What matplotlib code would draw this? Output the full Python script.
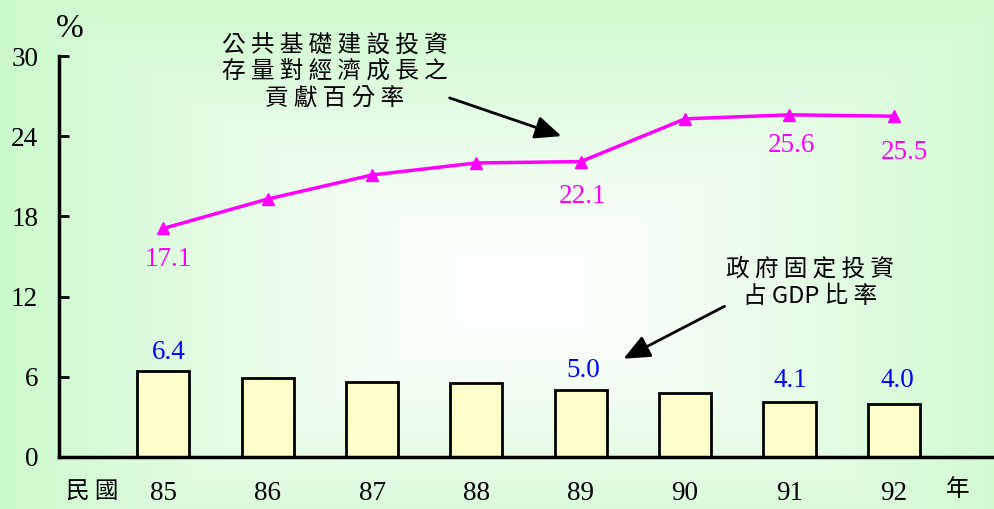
import numpy as np
import matplotlib
matplotlib.use("Agg")
import matplotlib.pyplot as plt

years = ["85", "86", "87", "88", "89", "90", "91", "92"]
contrib = [17.1, 19.3, 21.1, 22.0, 22.1, 25.3, 25.6, 25.5]
invest = [6.4, 5.9, 5.6, 5.5, 5.0, 4.8, 4.1, 4.0]
yticks = [0, 6, 12, 18, 24, 30]
line_label_idx = [0, 4, 6, 7]
bar_label_idx = [0, 4, 6, 7]

CJK = ["Noto Sans CJK TC", "DejaVu Sans"]
SERIF = ["Liberation Serif", "DejaVu Serif"]
NUMSIZE = 19.5

fig = plt.figure(figsize=(9.94, 5.09), dpi=100)

# background gradient
bg = fig.add_axes([0, 0, 1, 1], zorder=-10)
H, W = 509, 994
yy, xx = np.mgrid[0:H, 0:W]
cx, cy = 520, 290
t = np.maximum(np.abs(xx - cx) / 520.0, np.abs(yy - cy) / 300.0)
t = np.clip(t, 0, 1) ** 1.2
white = np.array([1.0, 1.0, 1.0])
green = np.array([0xcc, 0xfa, 0xcc]) / 255.0
img = white[None, None, :] * (1 - t[..., None]) + green[None, None, :] * t[..., None]
bg.imshow(img, aspect="auto", extent=[0, 1, 0, 1])
bg.axis("off")

ax = fig.add_axes([59 / 994, 1 - 457 / 509, 1 - 59 / 994, (457 - 56) / 509])
ax.patch.set_alpha(0)
x = np.arange(len(years))

ax.bar(x, invest, width=0.5, color="#ffffcc", edgecolor="black", linewidth=2, zorder=2)
ax.plot(x, contrib, color="#ff00ff", lw=2.5, marker="^", markersize=9, zorder=3)

ax.set_ylim(0, 30)
ax.set_xlim(-1.0, 7.96)
ax.set_yticks(yticks)
ax.set_yticklabels([str(v) for v in yticks], fontfamily=SERIF, fontsize=NUMSIZE)
ax.tick_params(axis="y", direction="in", length=7, width=2, pad=15)
ax.set_xticks(x)
ax.set_xticklabels(years, fontfamily=SERIF, fontsize=NUMSIZE)
ax.tick_params(axis="x", length=0, pad=17)
for s in ["top", "right"]:
    ax.spines[s].set_visible(False)
ax.spines["left"].set_linewidth(2.5)
ax.spines["bottom"].set_linewidth(2.5)

# value labels
line_off = {0: (0.05, -2.3), 4: (0.02, -2.6), 6: (0.02, -2.3), 7: (0.1, -2.7)}
for i in line_label_idx:
    dx, dy = line_off[i]
    ax.text(x[i] + dx, contrib[i] + dy, f"{contrib[i]:.1f}", color="#ff00ff",
            fontfamily=SERIF, fontsize=NUMSIZE, ha="center", va="center")
bar_off = {0: (0.05, 1.4), 4: (0.02, 1.5), 6: (0.01, 1.6), 7: (0.03, 1.7)}
for i in bar_label_idx:
    dx, dy = bar_off[i]
    ax.text(x[i] + dx, invest[i] + dy, f"{invest[i]:.1f}", color="#0000ff",
            fontfamily=SERIF, fontsize=NUMSIZE, ha="center", va="center")

# axis texts
fig.text(70 / 994, 1 - 29 / 509, "%", fontfamily=SERIF, fontsize=24, ha="center", va="center")
fig.text(92 / 994, 1 - 492 / 509, "民 國", fontfamily=CJK, fontsize=17, ha="center", va="center")
fig.text(958 / 994, 1 - 490 / 509, "年", fontfamily=CJK, fontsize=17, ha="center", va="center")

# annotations
fig.text(335 / 994, 1 - 72 / 509, "公 共 基 礎 建 設 投 資\n存 量 對 經 濟 成 長 之\n貢 獻 百 分 率",
         fontfamily=CJK, fontsize=17, ha="center", va="center", linespacing=1.22)
fig.text(810 / 994, 1 - 283 / 509, "政 府 固 定 投 資\n占 GDP 比 率",
         fontfamily=CJK, fontsize=17, ha="center", va="center", linespacing=1.22)

def fx(px):
    return px / 994
def fy(py):
    return 1 - py / 509

fig.add_artist(matplotlib.patches.FancyArrowPatch(
    (fx(447), fy(97)), (fx(564), fy(137)), transform=fig.transFigure,
    arrowstyle="-|>,head_length=8,head_width=3.5", color="black", lw=2, mutation_scale=2))
fig.add_artist(matplotlib.patches.FancyArrowPatch(
    (fx(727), fy(305)), (fx(621), fy(360)), transform=fig.transFigure,
    arrowstyle="-|>,head_length=8,head_width=3.5", color="black", lw=2, mutation_scale=2))

fig.savefig("out.png", dpi=100)
